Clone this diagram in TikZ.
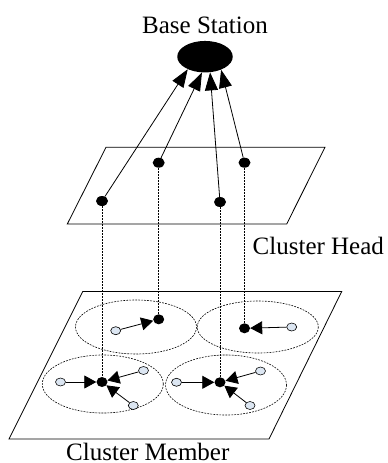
\documentclass[tikz,border=0pt]{standalone}
\usepackage{fontspec}
\setmainfont{Liberation Serif}
\usetikzlibrary{arrows.meta,shapes.geometric}
\definecolor{memberfill}{HTML}{DCE6F2}
\begin{document}
\begin{tikzpicture}[x=1pt,y=-1pt,
  plane/.style={draw, line width=0.8pt},
  area/.style={draw, line width=0.6pt, dash pattern=on 1.8pt off 1.2pt},
  link/.style={draw, line width=0.6pt, dash pattern=on 1.8pt off 1.2pt},
  hop/.style={draw, line width=0.8pt, -{Triangle[length=12pt,width=13pt]}},
  uplink/.style={draw, line width=0.8pt, -{Triangle[length=18pt,width=13pt]}},
  topheaddot/.style={ellipse, fill=black, inner sep=0pt, minimum width=12pt, minimum height=10pt},
  headdot/.style={ellipse, fill=black, inner sep=0pt, minimum width=11pt, minimum height=10pt},
  memberdot/.style={ellipse, draw, fill=memberfill, line width=0.6pt, inner sep=0pt, minimum width=10pt, minimum height=8pt},
  lbl/.style={inner sep=0pt, font=\fontsize{25}{30}\selectfont}
]
\useasboundingbox (0,0) rectangle (388,463);

% labels
\node[lbl, anchor=base] (bslabel) at (205,33.3) {Base Station};
\node[lbl, anchor=base west] (chlabel) at (252.5,254) {Cluster Head};
\node[lbl, anchor=base west] (cmlabel) at (66,460.8) {Cluster Member};

% base station
\node[ellipse, fill=black, inner sep=0pt, minimum width=55.5pt, minimum height=31.5pt] (bs) at (205,56.7) {};

% the two layers
\draw[plane] (106,147.3) -- (325,147.3) -- (286.7,224) -- (67.3,224) -- cycle;
\draw[plane] (82.7,291.5) -- (341.7,291.5) -- (269,439) -- (9,439) -- cycle;

% cluster areas
\draw[area] (136,327) ellipse [x radius=60.5, y radius=27];
\draw[area] (257.8,327) ellipse [x radius=60.5, y radius=26];
\draw[area] (102.8,384) ellipse [x radius=60.5, y radius=29];
\draw[area] (226,385) ellipse [x radius=60.5, y radius=30];

% cluster heads in the upper layer
\node[topheaddot] (t1) at (102,201) {};
\node[topheaddot] (t2) at (158.7,162.7) {};
\node[topheaddot] (t3) at (220,202) {};
\node[topheaddot] (t4) at (244.5,162.7) {};

% cluster heads in the lower layer
\node[headdot] (h1) at (102,382) {};
\node[headdot] (h2) at (158.7,319.3) {};
\node[headdot] (h3) at (220,382.3) {};
\node[headdot] (h4) at (244.5,328.3) {};

% cluster members
\node[memberdot] (m1) at (115.7,330.7) {};
\node[memberdot] (m2) at (291.7,327) {};
\node[memberdot] (m3) at (60.5,382) {};
\node[memberdot] (m4) at (143.5,370.5) {};
\node[memberdot] (m5) at (133.3,405.5) {};
\node[memberdot] (m6) at (176.5,382.3) {};
\node[memberdot] (m7) at (260.5,371) {};
\node[memberdot] (m8) at (250,405.5) {};

% vertical projections
\draw[link] (t1) -- (h1);
\draw[link] (t2) -- (h2);
\draw[link] (t3) -- (h3);
\draw[link] (t4) -- (h4);

% links to the base station
\draw[uplink] (t1) -- (bs.216);
\draw[uplink] (t2) -- (bs.259);
\draw[uplink] (t3) -- (bs.288);
\draw[uplink] (t4) -- (bs.321);

% member to head links
\draw[hop] (m1) -- (h2);
\draw[hop] (m2) -- (h4);
\draw[hop] (m3) -- (h1);
\draw[hop] (m4) -- (h1);
\draw[hop] (m5) -- (h1);
\draw[hop] (m6) -- (h3);
\draw[hop] (m7) -- (h3);
\draw[hop] (m8) -- (h3);
\end{tikzpicture}
\end{document}
